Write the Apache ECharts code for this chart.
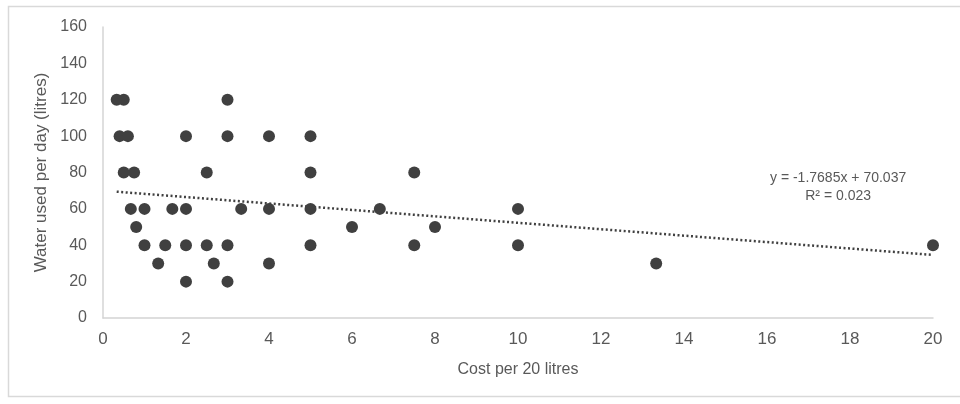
<!DOCTYPE html>
<html>
<head>
<meta charset="utf-8">
<script src="https://cdn.jsdelivr.net/npm/echarts@6/dist/echarts.min.js"></script>
<style>
html,body{margin:0;padding:0;background:#fff;}
#chart{width:960px;height:404px;}
</style>
</head>
<body>
<div id="chart"></div>
<script>
// cost per 20 litres vs water used per day
var costs = [0.33, 0.5, 3,
	0.4, 0.6, 2, 3, 4, 5,
	0.5, 0.75, 2.5, 5, 7.5,
	0.67, 1, 1.67, 2, 3.33, 4, 5, 6.67, 10,
	0.8, 6, 8,
	1, 1.5, 2, 2.5, 3, 5, 7.5, 10, 20,
	1.33, 2.67, 4, 13.33,
	2, 3];
var water = [120, 120, 120,
	100, 100, 100, 100, 100, 100,
	80, 80, 80, 80, 80,
	60, 60, 60, 60, 60, 60, 60, 60, 60,
	50, 50, 50,
	40, 40, 40, 40, 40, 40, 40, 40, 40,
	30, 30, 30, 30,
	20, 20];
// linear trendline end points
var trendX = [0.33, 20];
var trendY = [69.45, 34.67];
var trendLabel = ["y = -1.7685x + 70.037", "R² = 0.023"];
var xTicks = [0, 20, 2];
var yTicks = [0, 160, 20];

var fontFam = "'Liberation Sans Narrow', 'Liberation Sans', Arial, sans-serif";
var txtColor = "#595959";

var points = [];
for (var i = 0; i < costs.length; i++) {
	points.push([costs[i], water[i]]);
}
var trend = [];
for (var j = 0; j < trendX.length; j++) {
	trend.push([trendX[j], trendY[j]]);
}

var chart = echarts.init(document.getElementById('chart'));
var option = {
	animation: false,
	backgroundColor: '#fff',
	grid: {
		left: 103,
		right: 27,
		top: 27,
		bottom: 86
	},
	graphic: [{
		type: 'rect',
		left: 6,
		top: 4,
		shape: { width: 960, height: 390 },
		style: { fill: 'none', stroke: '#d9d9d9', lineWidth: 1.5 },
		silent: true
	}, {
		type: 'text',
		left: 770,
		top: 169,
		style: {
			text: trendLabel.join('\n'),
			font: '14px ' + fontFam,
			fill: txtColor,
			textAlign: 'center',
			lineHeight: 18
		}
	}],
	xAxis: {
		type: 'value',
		min: xTicks[0],
		max: xTicks[1],
		interval: xTicks[2],
		name: 'Cost per 20 litres',
		nameLocation: 'middle',
		nameGap: 44,
		nameTextStyle: { color: txtColor, fontSize: 16, fontFamily: fontFam },
		axisLine: { show: true, lineStyle: { color: '#d4d4d4', width: 1.5 } },
		axisTick: { show: false },
		splitLine: { show: false },
		axisLabel: { color: txtColor, fontSize: 17, fontFamily: fontFam, margin: 13 }
	},
	yAxis: {
		type: 'value',
		min: yTicks[0],
		max: yTicks[1],
		interval: yTicks[2],
		name: 'Water used per day (litres)',
		nameLocation: 'middle',
		nameGap: 48,
		nameTextStyle: { color: txtColor, fontSize: 17, fontFamily: fontFam },
		axisLine: { show: true, lineStyle: { color: '#d4d4d4', width: 1.5 } },
		axisTick: { show: false },
		splitLine: { show: false },
		axisLabel: { color: txtColor, fontSize: 16, fontFamily: fontFam, margin: 16 }
	},
	series: [{
		name: 'trend',
		type: 'line',
		data: trend,
		symbol: 'none',
		z: 1,
		lineStyle: { color: '#404040', width: 2.5, type: [2, 2.5], cap: 'butt' }
	}, {
		name: 'water',
		type: 'scatter',
		data: points,
		symbolSize: 12,
		z: 2,
		itemStyle: { color: '#404040', opacity: 1 }
	}]
};
chart.setOption(option);
</script>
</body>
</html>
